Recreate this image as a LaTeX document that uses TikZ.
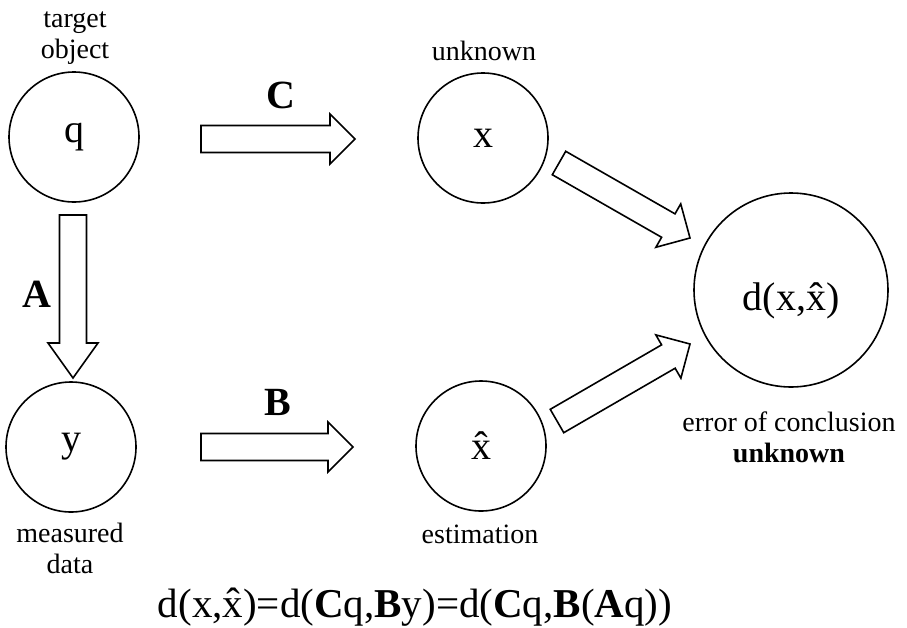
\documentclass[tikz,border=0pt]{standalone}
\usepackage{fontspec}
\setmainfont{Liberation Serif}
\usetikzlibrary{calc}

\tikzset{
  stage/.style={draw,circle,line width=1.6pt,inner sep=0pt,minimum size=130pt,
    font=\fontsize{40}{44}\selectfont},
  big stage/.style={stage,minimum size=194pt,text height=49pt},
  caption/.style={font=\fontsize{28}{31}\selectfont,align=center,anchor=base},
  maplabel/.style={font=\fontsize{40}{44}\selectfont\bfseries,anchor=base},
  fatline/.style={draw,line width=1.6pt,line join=miter,fill=white}
}
% hollow block arrow from #2 to #3, head length #1
\newcommand{\fatarrow}[3][25pt]{%
  \coordinate (fh) at ($(#3)!#1!(#2)$);
  \draw[fatline] ($(#2)!13.5pt!90:(#3)$) -- ($(fh)!13.5pt!90:(#3)$)
    -- ($(fh)!25pt!90:(#3)$) -- (#3) -- ($(fh)!25pt!-90:(#3)$)
    -- ($(fh)!13.5pt!-90:(#3)$) -- ($(#2)!13.5pt!-90:(#3)$) -- cycle;}

\begin{document}
\begin{tikzpicture}[x=1pt,y=-1pt]
\useasboundingbox (0,0) rectangle (907,627);
% the five quantities
\node[stage] (q) at (74,137) {q};
\node[stage] (x) at (483,138) {x};
\node[stage] (y) at (71,447) {y};
\node[stage] (xh) at (481,446) {\^x};
\node[big stage] (d) at (791,290) {d(x,\^x)};
% captions (base = last line)
\node[caption] (tgt) at (75,58) {target\\object};
\node[caption] (unk) at (484,60) {unknown};
\node[caption] (meas) at (70,573) {measured\\data};
\node[caption] (est) at (480,543) {estimation};
\node[caption] (err) at (789,462) {error of conclusion\\\textbf{unknown}};
% mappings
\coordinate (c0) at (201,139);
\coordinate (c1) at (355,139);
\coordinate (b0) at (201,447);
\coordinate (b1) at (353,447);
\coordinate (a0) at (73,215);
\coordinate (a1) at (73,378);
\coordinate (u0) at (559,163);
\coordinate (u1) at (690,238);
\coordinate (l0) at (557,421);
\coordinate (l1) at (690,344);
\fatarrow{c0}{c1}
\fatarrow{b0}{b1}
\fatarrow[35pt]{a0}{a1}
\fatarrow{u0}{u1}
\fatarrow{l0}{l1}
\node[maplabel] (C) at (281,108) {C};
\node[maplabel] (B) at (278,415) {B};
\node[maplabel] (A) at (37,307) {A};
% the relation
\node[font=\fontsize{41}{45}\selectfont,anchor=base] (eq) at (415,617)
  {d(x,\^x)=d(\textbf{C}q,\textbf{B}y)=d(\textbf{C}q,\textbf{B}(\textbf{A}q))};
\end{tikzpicture}
\end{document}
